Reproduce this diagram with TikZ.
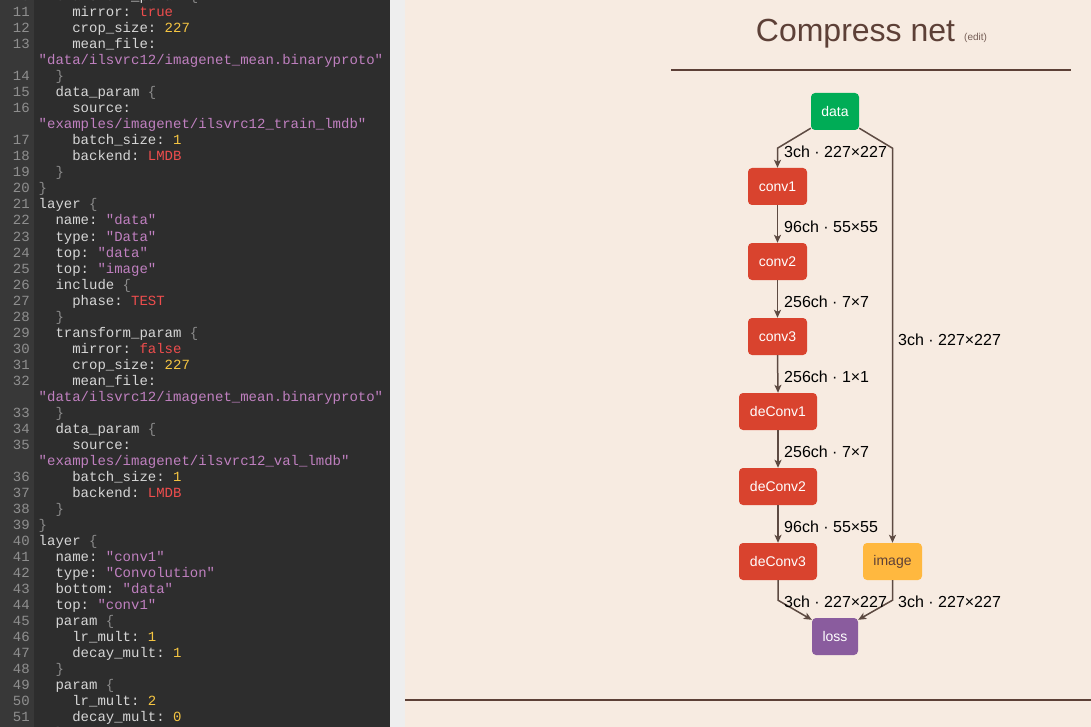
\documentclass[tikz,border=0pt]{standalone}
\usepackage{fontspec}
\setmainfont{Liberation Sans}
\setmonofont{Liberation Mono}
\usetikzlibrary{arrows.meta,calc}
\definecolor{panel}{HTML}{2D2D2D}
\definecolor{gutter}{HTML}{383838}
\definecolor{strip}{HTML}{EEEEEE}
\definecolor{page}{HTML}{F7EBE1}
\definecolor{brownc}{HTML}{5D4037}
\definecolor{edgec}{HTML}{5D4A42}
\definecolor{lnumc}{HTML}{8F8F8F}
\definecolor{codec}{HTML}{D6D6D6}
\definecolor{strc}{HTML}{C080C0}
\definecolor{numc}{HTML}{F5C542}
\definecolor{kwc}{HTML}{EE4D4D}
\definecolor{bracec}{HTML}{8A8A8A}
\definecolor{greenc}{HTML}{00AC56}
\definecolor{redc}{HTML}{D9432E}
\definecolor{yellowc}{HTML}{FFB83F}
\definecolor{purplec}{HTML}{8A5C9E}
\newcommand\cstr[1]{\textcolor{strc}{#1}}
\newcommand\cnum[1]{\textcolor{numc}{#1}}
\newcommand\ckw[1]{\textcolor{kwc}{#1}}
\newcommand\cbr[1]{\textcolor{bracec}{#1}}
\tikzset{
  lnum/.style={anchor=base east,inner sep=0,text=lnumc,font=\ttfamily\fontsize{14}{16}\selectfont},
  codetext/.style={anchor=base west,inner sep=0,text=codec,font=\ttfamily\fontsize{14}{16}\selectfont},
  layerbox/.style={rounded corners=4pt,minimum height=37,inner sep=0,font=\fontsize{14}{16}\selectfont,text=white},
  edge/.style={draw=edgec,line width=1.5pt,-{Stealth[length=8pt,width=7pt,inset=2pt]}},
  elabel/.style={anchor=west,inner sep=0,font=\fontsize{16}{18}\selectfont,text=black},
}
\newcommand\codeline[4]{%
  \node[lnum] (ln#1) at (30,{1+16*#1}) {#2};
  \node[codetext] (cl#1) at ({38.5+16.8*#3},{1+16*#1}) {#4};}
\newcommand\contline[2]{%
  \node[codetext] (cl#1) at (38.5,{1+16*#1}) {#2};}
\begin{document}
\begin{tikzpicture}[x=1pt,y=-1pt]
\useasboundingbox (0,0) rectangle (1091,727);
\begin{scope}
\clip (0,0) rectangle (1091,727);
\fill[page] (0,0) rectangle (1091,727);
\fill[panel] (0,0) rectangle (390,727);
\fill[gutter] (0,0) rectangle (34,727);
\fill[strip] (390,0) rectangle (405,727);
\codeline{0}{10}{1}{transform\_param \cbr{\{}}
\codeline{1}{11}{2}{mirror: \ckw{true}}
\codeline{2}{12}{2}{crop\_size: \cnum{227}}
\codeline{3}{13}{2}{mean\_file:}
\contline{4}{\cstr{"data/ilsvrc12/imagenet\_mean.binaryproto"}}
\codeline{5}{14}{1}{\cbr{\}}}
\codeline{6}{15}{1}{data\_param \cbr{\{}}
\codeline{7}{16}{2}{source:}
\contline{8}{\cstr{"examples/imagenet/ilsvrc12\_train\_lmdb"}}
\codeline{9}{17}{2}{batch\_size: \cnum{1}}
\codeline{10}{18}{2}{backend: \ckw{LMDB}}
\codeline{11}{19}{1}{\cbr{\}}}
\codeline{12}{20}{0}{\cbr{\}}}
\codeline{13}{21}{0}{layer \cbr{\{}}
\codeline{14}{22}{1}{name: \cstr{"data"}}
\codeline{15}{23}{1}{type: \cstr{"Data"}}
\codeline{16}{24}{1}{top: \cstr{"data"}}
\codeline{17}{25}{1}{top: \cstr{"image"}}
\codeline{18}{26}{1}{include \cbr{\{}}
\codeline{19}{27}{2}{phase: \ckw{TEST}}
\codeline{20}{28}{1}{\cbr{\}}}
\codeline{21}{29}{1}{transform\_param \cbr{\{}}
\codeline{22}{30}{2}{mirror: \ckw{false}}
\codeline{23}{31}{2}{crop\_size: \cnum{227}}
\codeline{24}{32}{2}{mean\_file:}
\contline{25}{\cstr{"data/ilsvrc12/imagenet\_mean.binaryproto"}}
\codeline{26}{33}{1}{\cbr{\}}}
\codeline{27}{34}{1}{data\_param \cbr{\{}}
\codeline{28}{35}{2}{source:}
\contline{29}{\cstr{"examples/imagenet/ilsvrc12\_val\_lmdb"}}
\codeline{30}{36}{2}{batch\_size: \cnum{1}}
\codeline{31}{37}{2}{backend: \ckw{LMDB}}
\codeline{32}{38}{1}{\cbr{\}}}
\codeline{33}{39}{0}{\cbr{\}}}
\codeline{34}{40}{0}{layer \cbr{\{}}
\codeline{35}{41}{1}{name: \cstr{"conv1"}}
\codeline{36}{42}{1}{type: \cstr{"Convolution"}}
\codeline{37}{43}{1}{bottom: \cstr{"data"}}
\codeline{38}{44}{1}{top: \cstr{"conv1"}}
\codeline{39}{45}{1}{param \cbr{\{}}
\codeline{40}{46}{2}{lr\_mult: \cnum{1}}
\codeline{41}{47}{2}{decay\_mult: \cnum{1}}
\codeline{42}{48}{1}{\cbr{\}}}
\codeline{43}{49}{1}{param \cbr{\{}}
\codeline{44}{50}{2}{lr\_mult: \cnum{2}}
\codeline{45}{51}{2}{decay\_mult: \cnum{0}}
\codeline{46}{52}{1}{\cbr{\}}}
\end{scope}
% title
\node[anchor=base,inner sep=0,text=brownc,font=\fontsize{32}{36}\selectfont] (title) at (855.5,42) {Compress net};
\node[anchor=base west,inner sep=0,text=brownc!85!white,font=\fontsize{10}{12}\selectfont] (edit) at (964,41) {(edit)};
\draw[brownc,line width=1.3pt] (671,70) -- (1071,70);
\draw[brownc,line width=1.3pt] (405,700) -- (1091,700);
% layers
\node[layerbox,fill=greenc,minimum width=48] (data) at (835,111.5) {data};
\node[layerbox,fill=redc,minimum width=59] (conv1) at (777.5,186.5) {conv1};
\node[layerbox,fill=redc,minimum width=59] (conv2) at (777.5,261.5) {conv2};
\node[layerbox,fill=redc,minimum width=59] (conv3) at (777.5,336.5) {conv3};
\node[layerbox,fill=redc,minimum width=78] (deconv1) at (778,411.5) {deConv1};
\node[layerbox,fill=redc,minimum width=78] (deconv2) at (778,486.5) {deConv2};
\node[layerbox,fill=redc,minimum width=78] (deconv3) at (778,561.5) {deConv3};
\node[layerbox,fill=yellowc,minimum width=59,text=brownc] (image) at (892.5,561.5) {image};
\node[layerbox,fill=purplec,minimum width=46] (loss) at (835,636.5) {loss};
% connectors
\draw[edge] ([yshift=2pt]data.south west) -- ([yshift=-18pt]data.south west -| conv1.north) -- (conv1.north);
\draw[edge] ([yshift=2pt]data.south east) -- ([yshift=-18pt]data.south east -| image.north) -- (image.north);
\draw[edge] (conv1.south) -- (conv2.north);
\draw[edge] (conv2.south) -- (conv3.north);
\draw[edge] (conv3.south) -- (deconv1.north);
\draw[edge] (deconv1.south) -- (deconv2.north);
\draw[edge] (deconv2.south) -- (deconv3.north);
\draw[edge] (deconv3.south) -- ([yshift=-20pt]deconv3.south) -- ([yshift=-2pt]loss.north west);
\draw[edge] (image.south) -- ([yshift=-20pt]image.south) -- ([yshift=-2pt]loss.north east);
% labels
\node[elabel] (l1) at (784,152) {3ch · 227×227};
\node[elabel] (l2) at (784,226.5) {96ch · 55×55};
\node[elabel] (l3) at (784,301.5) {256ch · 7×7};
\node[elabel] (l4) at (784,376.5) {256ch · 1×1};
\node[elabel] (l5) at (784,451.5) {256ch · 7×7};
\node[elabel] (l6) at (784,526.5) {96ch · 55×55};
\node[elabel] (l7) at (784,601.5) {3ch · 227×227};
\node[elabel] (l8) at (898,601.5) {3ch · 227×227};
\node[elabel] (l9) at (898,339.5) {3ch · 227×227};
\end{tikzpicture}
\end{document}
